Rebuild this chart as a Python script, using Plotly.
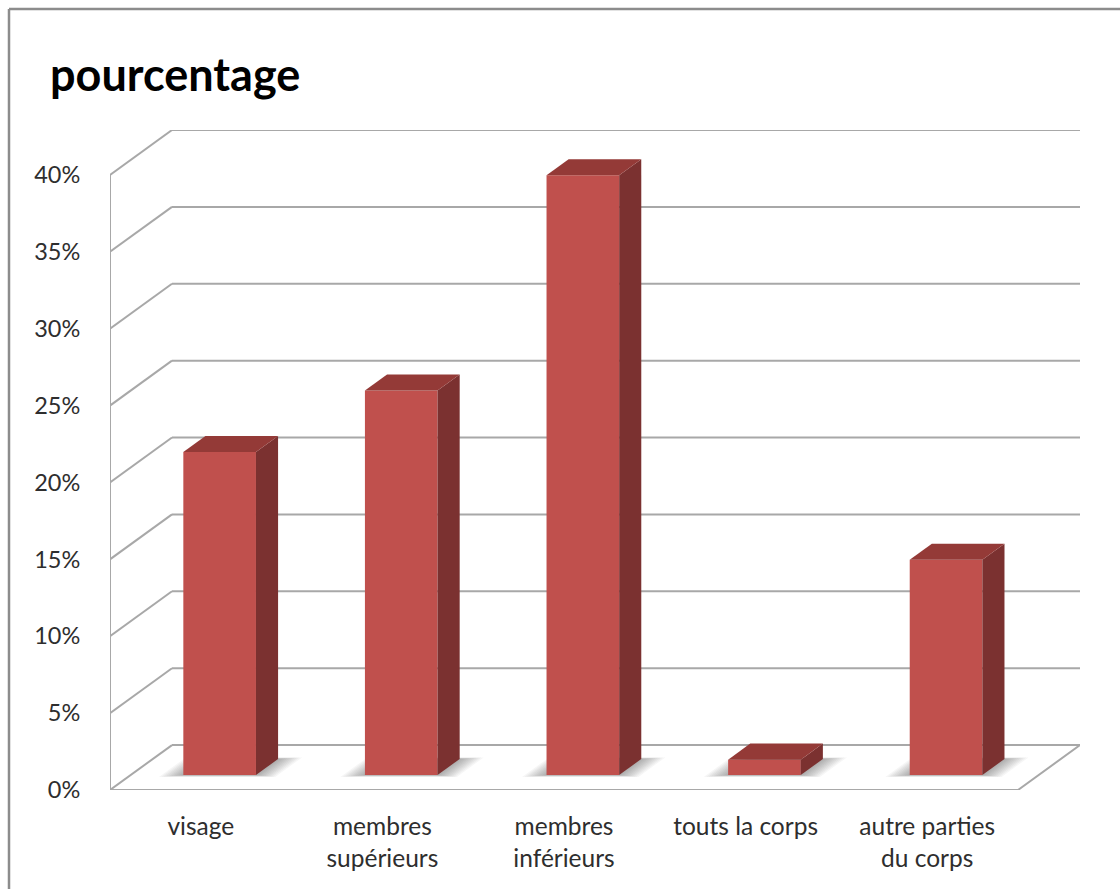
import plotly.graph_objects as go

# --- data ---------------------------------------------------------------
categories = ["visage", "membres<br>supérieurs", "membres<br>inférieurs",
              "touts la corps", "autre parties<br>du corps"]
values = [21, 25, 39, 1, 14]          # pourcentage
tick_values = [0, 5, 10, 15, 20, 25, 30, 35, 40]
tick_labels = [f"{t}%" for t in tick_values]
title_text = "pourcentage"

# --- oblique 3-D geometry (in axis units) -------------------------------
W, H = 1120, 889
N = len(categories)
DEPTH_X = 0.3414      # horizontal shift of the back wall, in category units
DEPTH_Y = 2.922       # vertical shift of the back wall, in % units
D_FRONT = 1 / 3       # depth of bar front faces
D_BACK = 0.69         # depth of bar back faces
BAR_W = 0.40

FRONT = "#C0504D"
SIDE = "#7B3130"
TOP = "#943A37"
GRID = "#A8A8A8"
TEXT = "#2E2E2E"
FONT = "Lato"

ML, MR, MT, MB = 110, 40, 130, 99
x_max = N + DEPTH_X
y_max = tick_values[-1] + DEPTH_Y


def px_x(p):
    return (p - ML) / (W - ML - MR)


def px_y(p):
    return (H - MB - p) / (H - MT - MB)


def floor_pt(c, d):
    return c + d * DEPTH_X, d * DEPTH_Y


shapes = []

# left wall diagonals and back-wall gridlines
for t in tick_values:
    shapes.append(dict(type="line", xref="x", yref="y", layer="below",
                       x0=0, y0=t, x1=DEPTH_X, y1=t + DEPTH_Y,
                       line=dict(color=GRID, width=2)))
    shapes.append(dict(type="line", xref="x", yref="y", layer="below",
                       x0=DEPTH_X, y0=t + DEPTH_Y, x1=N + DEPTH_X, y1=t + DEPTH_Y,
                       line=dict(color=GRID, width=2)))

# front edge of the left wall, front and right edge of the floor
shapes.append(dict(type="line", xref="x", yref="y", layer="below",
                   x0=0, y0=0, x1=0, y1=tick_values[-1],
                   line=dict(color=GRID, width=2)))
shapes.append(dict(type="path", xref="x", yref="y", layer="below",
                   path=f"M0,0 L{N},0 L{N + DEPTH_X},{DEPTH_Y}",
                   line=dict(color=GRID, width=2)))

shift = -0.01         # small nudge of the columns to the left

# soft floor shadows under the columns (stacked translucent footprints)
layers = 10
for i in range(N):
    xl = i + 0.5 - BAR_W / 2 + shift
    xr = i + 0.5 + BAR_W / 2 + shift
    for k in range(layers):
        ex = 0.12 * (1 - k / layers)
        a = floor_pt(xl - ex, D_FRONT - ex * 0.35)
        b = floor_pt(xr + ex, D_FRONT - ex * 0.35)
        c = floor_pt(xr + ex, D_BACK + ex * 0.3)
        d = floor_pt(xl - ex, D_BACK + ex * 0.3)
        shapes.append(dict(type="path", xref="x", yref="y", layer="below",
                           path=f"M{a[0]},{a[1]} L{b[0]},{b[1]} L{c[0]},{c[1]} L{d[0]},{d[1]} Z",
                           fillcolor="rgba(40,40,40,0.045)", line=dict(width=0)))

# chart frame
shapes.append(dict(type="line", xref="paper", yref="paper",
                   x0=px_x(9), y0=px_y(9), x1=px_x(W + 5), y1=px_y(9),
                   line=dict(color="#8C8C8C", width=2.5)))
shapes.append(dict(type="line", xref="paper", yref="paper",
                   x0=px_x(9), y0=px_y(9), x1=px_x(9), y1=px_y(H + 5),
                   line=dict(color="#8C8C8C", width=2.5)))

fig = go.Figure()

fx = D_FRONT * DEPTH_X
fy = D_FRONT * DEPTH_Y
ddx = (D_BACK - D_FRONT) * DEPTH_X
ddy = (D_BACK - D_FRONT) * DEPTH_Y

# front faces
fig.add_trace(go.Bar(
    x=[i + 0.5 + fx + shift for i in range(N)], y=values, base=[fy] * N,
    width=BAR_W, marker=dict(color=FRONT, line=dict(width=0)),
    hoverinfo="skip", showlegend=False))

# side and top faces
for i, v in enumerate(values):
    xl = i + 0.5 + fx + shift - BAR_W / 2
    xr = i + 0.5 + fx + shift + BAR_W / 2
    top = fy + v
    fig.add_trace(go.Scatter(
        x=[xr, xr, xr + ddx, xr + ddx, xr], y=[fy, top, top + ddy, fy + ddy, fy],
        fill="toself", fillcolor=SIDE, mode="lines", line=dict(width=0),
        hoverinfo="skip", showlegend=False))
    fig.add_trace(go.Scatter(
        x=[xl, xr, xr + ddx, xl + ddx, xl], y=[top, top, top + ddy, top + ddy, top],
        fill="toself", fillcolor=TOP, mode="lines", line=dict(width=0),
        hoverinfo="skip", showlegend=False))

fig.update_layout(
    width=W, height=H,
    margin=dict(l=ML, r=MR, t=MT, b=MB),
    paper_bgcolor="white", plot_bgcolor="white",
    shapes=shapes,
    showlegend=False,
    font=dict(family=FONT, color=TEXT, size=24),
    xaxis=dict(range=[0, x_max], showgrid=False, zeroline=False, showline=False,
               tickmode="array", tickvals=[i + 0.5 for i in range(N)], ticktext=categories,
               ticks="outside", ticklen=15, tickcolor="rgba(0,0,0,0)",
               tickfont=dict(size=24.5, color=TEXT, family=FONT), fixedrange=True),
    yaxis=dict(range=[0, y_max], showgrid=False, zeroline=False, showline=False,
               tickmode="array", tickvals=tick_values, ticktext=tick_labels,
               ticks="outside", ticklen=24, tickcolor="rgba(0,0,0,0)",
               tickfont=dict(size=23.5, color=TEXT, family=FONT), fixedrange=True),
    annotations=[dict(text=f"<b>{title_text}</b>", xref="paper", yref="paper",
                      x=px_x(48), y=px_y(74), xanchor="left", yanchor="middle",
                      showarrow=False, font=dict(size=45, color="black", family=FONT))],
)

fig.write_html("out.html")
